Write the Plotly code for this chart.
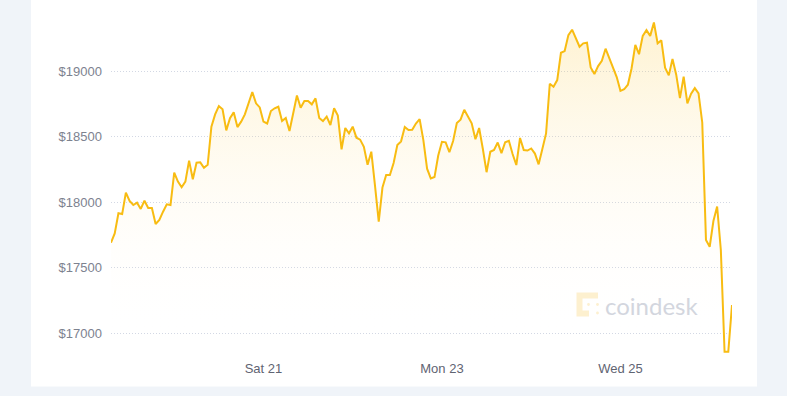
import pandas as pd
import plotly.graph_objects as go

# ---- data (hourly BTC price, USD) ----
start_time = "2020-11-19 07:00"
prices = [
    17692, 17763, 17916, 17910, 18073, 18010, 17979, 17997, 17949, 18012,
    17956, 17956, 17834, 17865, 17928, 17984, 17979, 18225, 18157, 18114,
    18157, 18317, 18175, 18301, 18304, 18263, 18286, 18576, 18670, 18733,
    18708, 18548, 18640, 18685, 18573, 18614, 18670, 18756, 18840, 18754,
    18723, 18614, 18600, 18695, 18716, 18728, 18619, 18642, 18543, 18678,
    18813, 18720, 18771, 18771, 18746, 18792, 18642, 18619, 18652, 18589,
    18716, 18661, 18403, 18566, 18525, 18576, 18492, 18477, 18423, 18286,
    18385, 18124, 17852, 18112, 18208, 18208, 18299, 18436, 18464, 18573,
    18550, 18553, 18600, 18633, 18474, 18256, 18182, 18192, 18356, 18461,
    18457, 18381, 18467, 18604, 18629, 18705, 18653, 18602, 18480, 18566,
    18406, 18229, 18385, 18398, 18455, 18375, 18457, 18468, 18368, 18284,
    18490, 18398, 18394, 18410, 18371, 18289, 18406, 18525, 18903, 18880,
    18931, 19139, 19152, 19274, 19315, 19249, 19185, 19211, 19216, 19027,
    18977, 19038, 19078, 19170, 19097, 19033, 18954, 18849, 18861, 18896,
    19021, 19200, 19128, 19268, 19312, 19268, 19370, 19211, 19234, 19025,
    18967, 19091, 18972, 18794, 18957, 18754, 18827, 18870, 18830, 18608,
    17712, 17661, 17857, 17968, 17636, 16861, 16861, 17217,
]
times = pd.date_range(start_time, periods=len(prices), freq="h")

y_tick_values = [17000, 17500, 18000, 18500, 19000]
y_tick_labels = ["$17000", "$17500", "$18000", "$18500", "$19000"]
x_tick_values = ["2020-11-21", "2020-11-23", "2020-11-25"]
x_tick_labels = ["Sat 21", "Mon 23", "Wed 25"]

# ---- layout geometry (pixels) ----
W, H = 787, 396
ML, MR, MT, MB = 111, 55, 15, 41
PW, PH = W - ML - MR, H - MT - MB
Y_RANGE = [16836, 19427]


def px(x):
    return (x - ML) / PW


def py(y):
    return (H - MB - y) / PH


LINE = "#f8bc12"
BG = "#f0f4f9"

fig = go.Figure()
fig.add_trace(go.Scatter(
    x=times, y=prices, mode="lines",
    line=dict(color=LINE, width=2),
    fill="tozeroy",
    fillgradient=dict(
        type="vertical",
        start=Y_RANGE[0] + 150, stop=19380,
        colorscale=[[0, "rgba(255,255,255,0)"], [1, "rgba(251,200,60,0.24)"]],
    ),
    hoverinfo="skip",
    showlegend=False,
))

shapes = [
    # white card
    dict(type="rect", xref="paper", yref="paper",
         x0=px(31), x1=px(757), y0=py(386.5), y1=py(-5),
         fillcolor="white", line=dict(width=0), layer="below"),
]
# coindesk logo (pale bracket of dots)
logo_col = "#fdf0cf"
shapes.append(dict(
    type="path", xref="paper", yref="paper",
    path=(f"M {px(598)},{py(295.5)} L {px(579.5)},{py(295.5)} "
          f"L {px(579.5)},{py(313.5)} L {px(589)},{py(313.5)}"),
    line=dict(color=logo_col, width=6), layer="above"))
for (cx, cy, r) in [(588.5, 304.5, 1.4), (597.5, 304.5, 1.4), (597.5, 313, 1.4)]:
    shapes.append(dict(type="circle", xref="paper", yref="paper",
                       x0=px(cx - r), x1=px(cx + r), y0=py(cy + r), y1=py(cy - r),
                       fillcolor=logo_col, line=dict(width=0)))

fig.update_layout(
    width=W, height=H,
    margin=dict(l=ML, r=MR, t=MT, b=MB),
    paper_bgcolor=BG,
    plot_bgcolor="rgba(0,0,0,0)",
    font=dict(family="Liberation Sans, Arial, sans-serif"),
    shapes=shapes,
    annotations=[dict(
        text="coindesk", xref="paper", yref="paper",
        x=px(603), y=py(305), xanchor="left", yanchor="middle",
        showarrow=False,
        font=dict(family="Lato, sans-serif", size=24, color="#d3d6de"),
    )],
    xaxis=dict(
        range=[times[0], times[-1]],
        tickvals=x_tick_values, ticktext=x_tick_labels,
        showgrid=False, zeroline=False, showline=False, ticks="",
        tickfont=dict(size=13, color="#5f6472"),
        ticklabelstandoff=4,
    ),
    yaxis=dict(
        range=Y_RANGE,
        tickvals=y_tick_values, ticktext=y_tick_labels,
        showgrid=True, gridcolor="#d3d8e4", griddash="1px,2px", gridwidth=1,
        zeroline=False, showline=False, ticks="",
        tickfont=dict(size=13, color="#7d828f"),
        ticklabelstandoff=8,
    ),
)

fig.write_html("out.html")
